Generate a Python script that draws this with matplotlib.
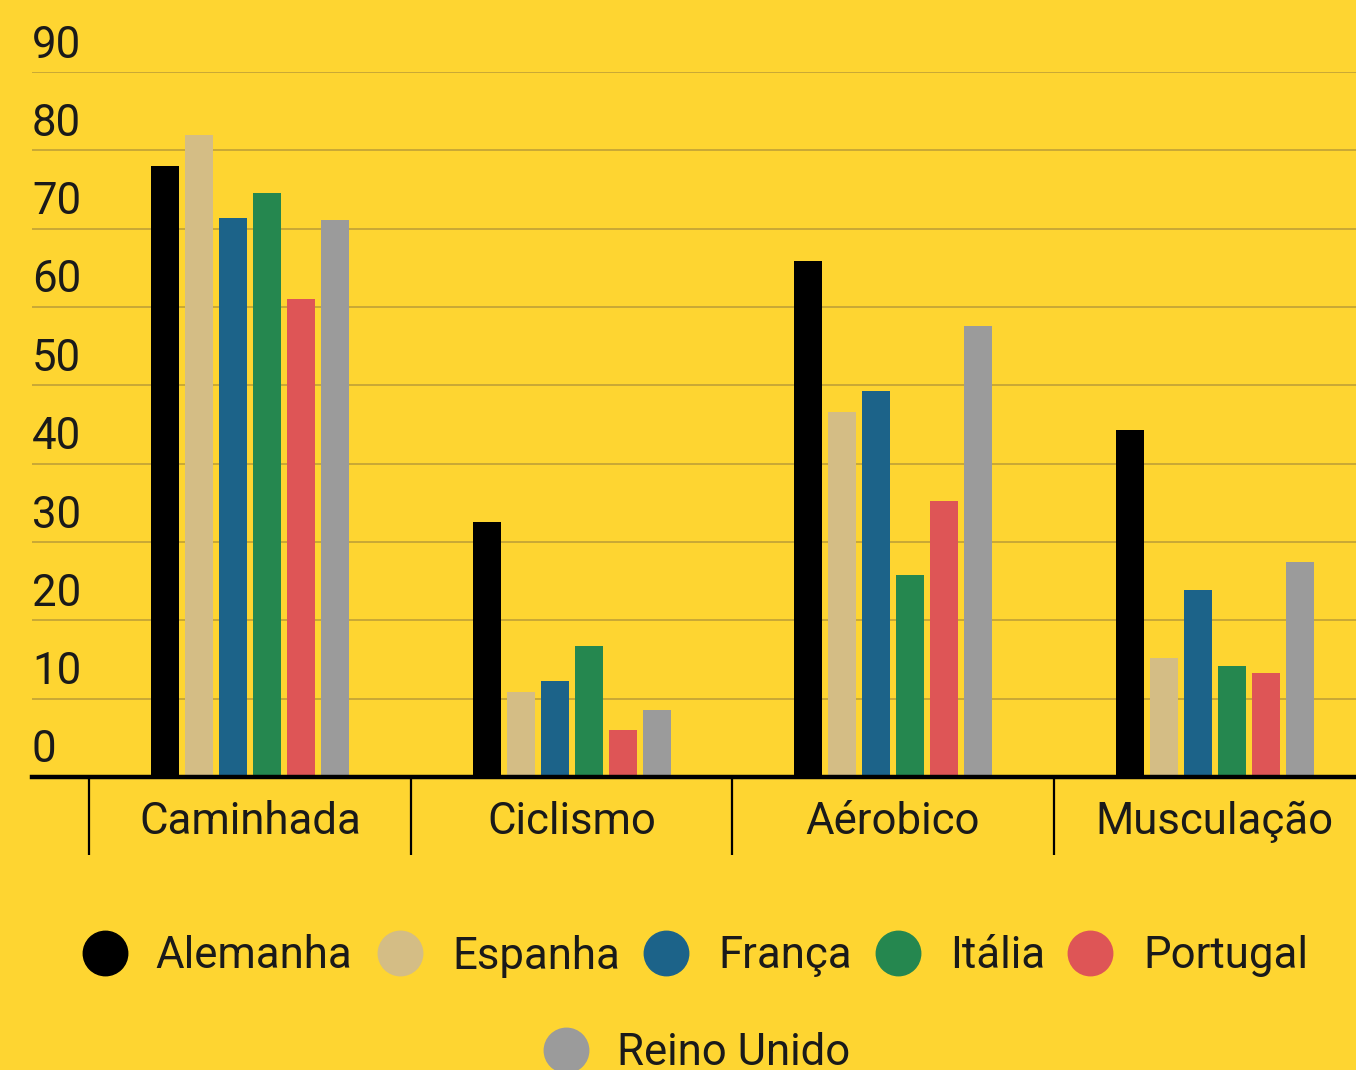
import matplotlib
matplotlib.use("Agg")
import matplotlib.pyplot as plt
import matplotlib.transforms as mtransforms
from matplotlib.lines import Line2D
import numpy as np

plt.rcParams['font.family'] = ['Roboto', 'DejaVu Sans']

categories = ["Caminhada", "Ciclismo", "Aérobico", "Musculação"]
series_names = ["Alemanha", "Espanha", "França", "Itália", "Portugal", "Reino Unido"]
alemanha = [78.0, 32.6, 65.9, 44.3]
espanha = [82.0, 10.9, 46.6, 15.2]
franca = [71.3, 12.3, 49.3, 23.9]
italia = [74.6, 16.7, 25.8, 14.2]
portugal = [61.0, 6.0, 35.2, 13.3]
reino_unido = [71.1, 8.6, 57.6, 27.5]
y_ticks = [0, 10, 20, 30, 40, 50, 60, 70, 80, 90]

series = [alemanha, espanha, franca, italia, portugal, reino_unido]
colors = ["#000000", "#D4BD85", "#1C6389", "#25874F", "#DE5556", "#9B9B9B"]
bg = "#FED531"
txt = "#1a1a1a"
fs = 31.5

W, H = 1356, 1070
fig = plt.figure(figsize=(W / 100, H / 100), dpi=100, facecolor=bg)
ax = fig.add_axes([32 / W, 293 / H, 1324 / W, 705 / H])
ax.set_facecolor(bg)

x = np.arange(len(categories))
pitch = 34 / 321.5
width = 28 / 321.5
for i, (vals, col) in enumerate(zip(series, colors)):
    ax.bar(x + (i - 2.5) * pitch, vals, width=width, color=col, zorder=3)

ax.set_xlim((32 - 250) / 321.5, (1356 - 250) / 321.5)
ax.set_ylim(0, 90)

for s in ["top", "right", "left"]:
    ax.spines[s].set_visible(False)
ax.spines["bottom"].set_linewidth(3.2)
ax.spines["bottom"].set_color("black")
ax.spines["bottom"].set_zorder(4)

ax.set_yticks(y_ticks)
ax.yaxis.grid(True, color="#C5A536", linewidth=1.3, zorder=0)
ax.set_axisbelow(True)
ax.tick_params(axis="y", length=0, pad=0, labelsize=fs, labelcolor=txt)
offset = mtransforms.ScaledTranslation(0 / 100, 31 / 100, fig.dpi_scale_trans)
for lab in ax.get_yticklabels():
    lab.set_horizontalalignment("left")
    lab.set_transform(lab.get_transform() + offset)

ax.set_xticks(x)
ax.set_xticklabels(categories)
ax.tick_params(axis="x", which="major", length=0, pad=17, labelsize=fs, labelcolor=txt)
ax.set_xticks(np.arange(len(categories)) - 0.5, minor=True)
ax.tick_params(axis="x", which="minor", length=56, width=1.6, color="black")

# legend (manual layout)
row1_y = 1 - 953 / H
row2_y = 1 - 1050 / H
legend_pos = [(105, 155, row1_y), (400, 452, row1_y), (666, 718, row1_y),
              (898, 950, row1_y), (1090, 1143, row1_y), (566, 617, row2_y)]
for name, col, (mx, tx, yy) in zip(series_names, colors, legend_pos):
    fig.add_artist(Line2D([mx / W], [yy], marker="o", markersize=32, color=col,
                          linestyle="none", transform=fig.transFigure))
    fig.text(tx / W, yy - 3 / H, name, fontsize=fs, va="center", ha="left", color=txt)

fig.savefig("out.png", dpi=100, facecolor=bg)
